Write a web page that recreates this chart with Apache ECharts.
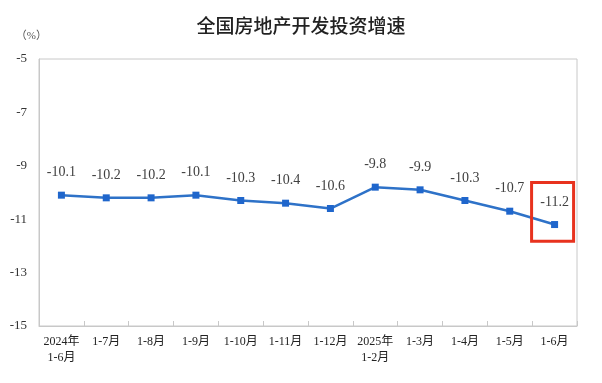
<!DOCTYPE html>
<html><head><meta charset="utf-8">
<script src="https://cdn.jsdelivr.net/npm/echarts@6/dist/echarts.min.js"></script>
<style>html,body{margin:0;padding:0;background:#fff}#c{width:602px;height:383px}</style>
</head><body><div id="c"></div>
<script>
const categories = ['2024年\n1-6月','1-7月','1-8月','1-9月','1-10月','1-11月','1-12月','2025年\n1-2月','1-3月','1-4月','1-5月','1-6月'];
const values = [-10.1,-10.2,-10.2,-10.1,-10.3,-10.4,-10.6,-9.8,-9.9,-10.3,-10.7,-11.2];
const yTicks = [-15,-13,-11,-9,-7,-5];
const highlight = {category: '1-6月', top: -9.63, bottom: -11.83};

const serif = "'Liberation Serif','Times New Roman','Noto Sans CJK SC',serif";
const chart = echarts.init(document.getElementById('c'));
chart.setOption({
  animation: false,
  title: {text: '全国房地产开发投资增速', left: 'center', top: 11,
    textStyle: {fontFamily: "'Noto Sans CJK SC',sans-serif", fontSize: 19, fontWeight: 500, color: '#222'}},
  grid: {left: 39, right: 25, top: 59, bottom: 57, show: true, borderColor: '#c8c8c8', borderWidth: 1},
  xAxis: {type: 'category', data: categories, boundaryGap: true,
    axisLine: {show: true, lineStyle: {color: '#c8c8c8'}},
    axisTick: {show: true, inside: true, length: 5, lineStyle: {color: '#c8c8c8'}},
    axisLabel: {fontFamily: serif, fontSize: 12, color: '#222', margin: 8, lineHeight: 16, interval: 0}},
  yAxis: {type: 'value', min: yTicks[0], max: yTicks[yTicks.length-1], interval: 1,
    name: '（%）', nameLocation: 'end', nameGap: 17,
    nameTextStyle: {fontFamily: serif, fontSize: 11, color: '#555', align: 'right', padding: [0, -8, 0, 0]},
    axisLine: {show: true, lineStyle: {color: '#c8c8c8'}},
    axisTick: {show: false}, splitLine: {show: false},
    axisLabel: {fontFamily: serif, fontSize: 13, color: '#333', margin: 12,
      formatter: v => yTicks.includes(v) ? String(v) : ''}},
  series: [{type: 'line', data: values, symbol: 'rect', symbolSize: 7,
    lineStyle: {color: '#2e72c8', width: 2.5}, itemStyle: {color: '#1f66cc'},
    label: {show: true, position: 'top', distance: 12, fontFamily: serif, fontSize: 14, color: '#404040',
      formatter: p => p.value.toFixed(1)}}]
});
const p1 = chart.convertToPixel({gridIndex: 0}, [highlight.category, highlight.top]);
const p2 = chart.convertToPixel({gridIndex: 0}, [highlight.category, highlight.bottom]);
chart.setOption({graphic: [{type: 'rect', shape: {x: p1[0] - 23, y: p1[1], width: 42, height: p2[1] - p1[1]},
  style: {fill: 'none', stroke: '#e8321e', lineWidth: 3}, z: 10}]});
</script></body></html>
